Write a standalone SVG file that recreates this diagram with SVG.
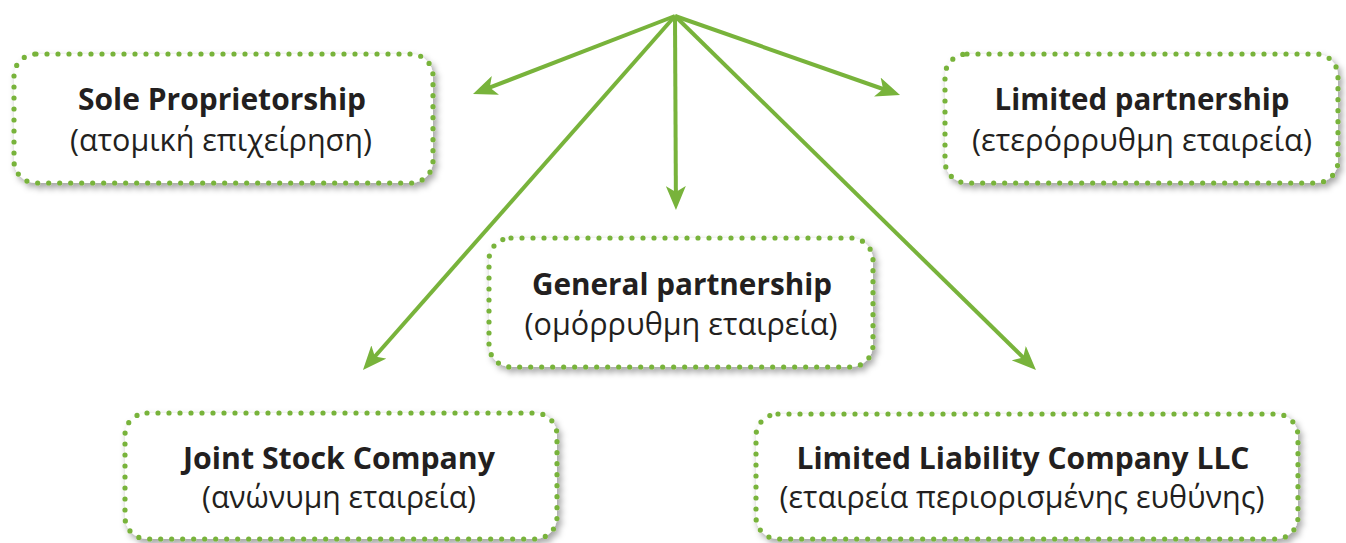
<svg xmlns="http://www.w3.org/2000/svg" width="1346" height="543" viewBox="0 0 1346 543">
<style>
.box{fill:#ffffff;stroke:#78b33b;stroke-width:5.2;stroke-dasharray:0 11;stroke-linecap:round;filter:url(#sh)}
.t1{font-family:"Open Sans","Noto Sans",sans-serif;font-weight:700;font-size:31px;fill:#231f20;text-anchor:middle}
.t2{font-family:"Open Sans","Noto Sans",sans-serif;font-weight:400;font-size:31px;fill:#231f20;text-anchor:middle}
.con line{stroke:#78b33b;stroke-width:4;fill:none;marker-end:url(#ah)}
</style>
<defs>
<filter id="sh" x="-10%" y="-20%" width="125%" height="150%">
<feDropShadow dx="3" dy="4" stdDeviation="3" flood-color="#000" flood-opacity="0.35"/>
</filter>
<marker id="ah" viewBox="0 0 24 20" refX="12" refY="10" markerWidth="24" markerHeight="20" markerUnits="userSpaceOnUse" orient="auto">
<path d="M0,0 L24,10 L0,20 L6,10 Z" fill="#78b33b"/>
</marker>
</defs>
<g id="sole">
<rect class="box" x="14" y="54" width="419" height="129" rx="22"/>
<text class="t1" x="222" y="110" textLength="288" lengthAdjust="spacingAndGlyphs">Sole Proprietorship</text>
<text class="t2" x="221" y="151" textLength="302" lengthAdjust="spacingAndGlyphs">(ατομική επιχείρηση)</text>
</g>
<g id="limited-partnership">
<rect class="box" x="945" y="54" width="393" height="129" rx="22"/>
<text class="t1" x="1142" y="110" textLength="295" lengthAdjust="spacingAndGlyphs">Limited partnership</text>
<text class="t2" x="1142" y="151" textLength="340" lengthAdjust="spacingAndGlyphs">(ετερόρρυθμη εταιρεία)</text>
</g>
<g id="general-partnership">
<rect class="box" x="489" y="238" width="384" height="129" rx="22"/>
<text class="t1" x="682" y="295" textLength="300" lengthAdjust="spacingAndGlyphs">General partnership</text>
<text class="t2" x="681" y="335" textLength="313" lengthAdjust="spacingAndGlyphs">(ομόρρυθμη εταιρεία)</text>
</g>
<g id="joint-stock">
<rect class="box" x="125" y="413" width="432" height="126" rx="22"/>
<text class="t1" x="339" y="469" textLength="312" lengthAdjust="spacingAndGlyphs">Joint Stock Company</text>
<text class="t2" x="339" y="508" textLength="274" lengthAdjust="spacingAndGlyphs">(ανώνυμη εταιρεία)</text>
</g>
<g id="llc">
<rect class="box" x="756" y="414" width="542" height="125" rx="22"/>
<text class="t1" x="1023" y="469" textLength="453" lengthAdjust="spacingAndGlyphs">Limited Liability Company LLC</text>
<text class="t2" x="1022" y="508" textLength="485" lengthAdjust="spacingAndGlyphs">(εταιρεία περιορισμένης ευθύνης)</text>
</g>
<g id="connectors" class="con">
<line x1="675" y1="16" x2="484.2" y2="89.7"/>
<line x1="675" y1="16" x2="888.7" y2="91"/>
<line x1="675" y1="16" x2="675.9" y2="198"/>
<line x1="675" y1="16" x2="370.9" y2="361"/>
<line x1="675" y1="16" x2="1027.4" y2="361.6"/>
</g>
</svg>
